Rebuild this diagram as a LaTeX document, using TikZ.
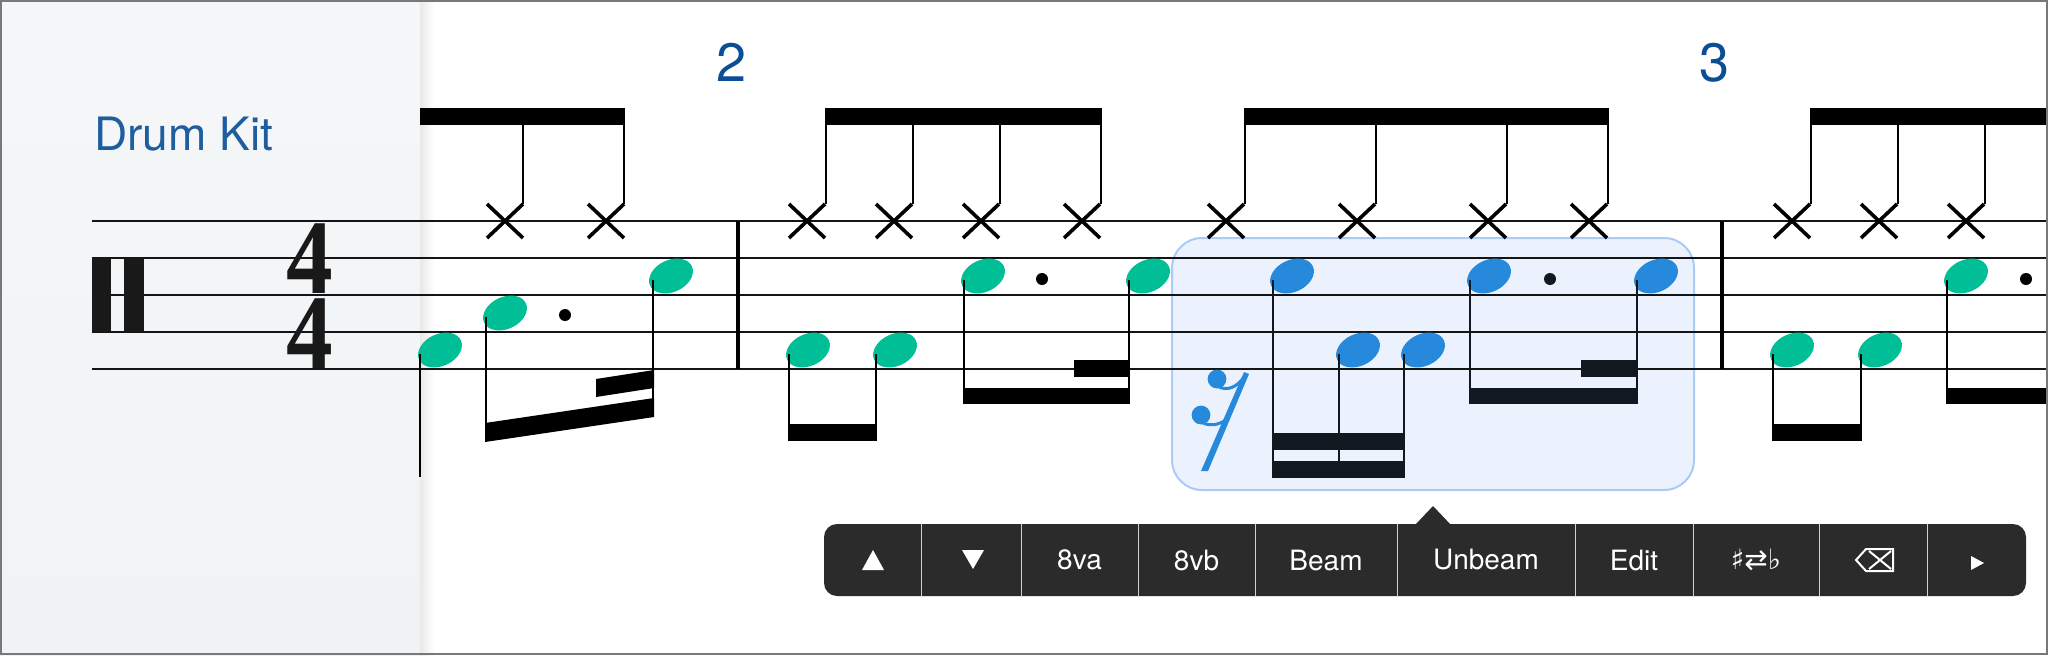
\documentclass[tikz,border=0pt]{standalone}
\usepackage{fontspec}
\newfontfamily\uifont{TeX Gyre Heros}
\newfontfamily\symfont{DejaVu Sans}
\newfontfamily\timefont{Liberation Serif}
\definecolor{panelgray}{HTML}{F0F3F5}
\definecolor{drumblue}{HTML}{1E5E9E}
\definecolor{barblue}{HTML}{0B4E94}
\definecolor{notegreen}{HTML}{00BE95}
\definecolor{noteblue}{HTML}{2789DC}
\definecolor{selfill}{HTML}{EBF2FD}
\definecolor{seldraw}{HTML}{A9CBF6}
\definecolor{selink}{HTML}{121820}
\definecolor{toolgray}{HTML}{2B2B2B}
\definecolor{framegray}{HTML}{787878}

\begin{document}
\begin{tikzpicture}[x=0.5pt, y=-0.5pt,
    staffline/.style={line width=0.9pt, black!92},
    barline/.style={line width=1.7pt},
    stemline/.style={line width=1.4pt},
    xhead/.pic={\draw[line width=1.8pt] (-18,-17) -- (18,17) (-18,17) -- (18,-17);},
    nhead/.pic={\fill[rotate=25] (0,0) ellipse [x radius=11.5pt, y radius=8pt];},
    dotmark/.pic={\fill (0,0) circle [radius=3pt];},
    toolcell/.style={minimum height=36pt, inner sep=0pt, text=white,
        font=\uifont\fontsize{14pt}{16pt}\selectfont},
    divider/.style={draw=white!82!black, line width=0.5pt}]
    \useasboundingbox (0,0) rectangle (2048,655);
    % header panel
    \shade[top color=panelgray!70!white, bottom color=panelgray] (0,0) rectangle (420,655);
    \shade[left color=black!9, right color=white] (420,0) rectangle (434,655);
    % selection
    \draw[seldraw, fill=selfill, line width=1pt, rounded corners=15pt] (1172,238) rectangle (1694,490);
    % staff
    \draw[staffline] (92,221) -- (2046,221);
    \draw[staffline] (92,258) -- (2046,258);
    \draw[staffline] (92,295) -- (2046,295);
    \draw[staffline] (92,332) -- (2046,332);
    \draw[staffline] (92,369) -- (2046,369);
    \draw[barline] (738,221) -- (738,369);
    \draw[barline] (1722,221) -- (1722,369);
    \fill[black!90] (92,258) rectangle (111,332);
    \fill[black!90] (124,258) rectangle (144,332);
    \node[inner sep=0pt, anchor=south, align=center, text=black!90,
        font=\timefont\bfseries\fontsize{53pt}{37.5pt}\selectfont] (timesig) at (310,369)
        {\lineskiplimit=-100pt\scalebox{0.88}[1]{4}\\\scalebox{0.88}[1]{4}};
    \node[anchor=base west, inner sep=0pt, text=drumblue, font=\uifont\fontsize{23pt}{26pt}\selectfont] (kit) at (94,150) {Drum Kit};
    \node[anchor=base, inner sep=0pt, text=barblue, font=\uifont\fontsize{27pt}{30pt}\selectfont] (bartwo) at (731,81) {2};
    \node[anchor=base, inner sep=0pt, text=barblue, font=\uifont\fontsize{27pt}{30pt}\selectfont] (barthree) at (1714,81) {3};
    % hi-hat, stems up
    \pic at (505,221) {xhead};
    \pic at (606,221) {xhead};
    \draw[stemline] (523,204) -- (523,116);
    \draw[stemline] (624,204) -- (624,116);
    \fill (420,108) rectangle (625,125);
    \pic at (807,221) {xhead};
    \pic at (894,221) {xhead};
    \pic at (981,221) {xhead};
    \pic at (1082,221) {xhead};
    \draw[stemline] (826,204) -- (826,116);
    \draw[stemline] (913,204) -- (913,116);
    \draw[stemline] (1000,204) -- (1000,116);
    \draw[stemline] (1101,204) -- (1101,116);
    \fill (825,108) rectangle (1102,125);
    \pic at (1226,221) {xhead};
    \pic at (1357,221) {xhead};
    \pic at (1488,221) {xhead};
    \pic at (1589,221) {xhead};
    \draw[stemline] (1245,204) -- (1245,116);
    \draw[stemline] (1376,204) -- (1376,116);
    \draw[stemline] (1507,204) -- (1507,116);
    \draw[stemline] (1608,204) -- (1608,116);
    \fill (1244,108) rectangle (1609,125);
    \pic at (1792,221) {xhead};
    \pic at (1879,221) {xhead};
    \pic at (1966,221) {xhead};
    \draw[stemline] (1811,204) -- (1811,116);
    \draw[stemline] (1898,204) -- (1898,116);
    \draw[stemline] (1985,204) -- (1985,116);
    \fill (1810,108) rectangle (2046,125);
    % bass and snare, stems down
    \pic[notegreen] at (440,350) {nhead};
    \pic[notegreen] at (505,313) {nhead};
    \pic[notegreen] at (671,276) {nhead};
    \pic at (565,315) {dotmark};
    \draw[stemline] (420,354) -- (420,477);
    \draw[stemline] (486,317) -- (486,435);
    \draw[stemline] (653,280) -- (653,410);
    \fill (485,423) -- (654,398) -- (654,417) -- (485,442) -- cycle;
    \fill (596,379) -- (654,370) -- (654,388) -- (596,397) -- cycle;
    \pic[notegreen] at (808,350) {nhead};
    \pic[notegreen] at (895,350) {nhead};
    \draw[stemline] (789,354) -- (789,436);
    \draw[stemline] (876,354) -- (876,436);
    \fill (788,424) rectangle (877,441);
    \pic[notegreen] at (983,276) {nhead};
    \pic[notegreen] at (1148,276) {nhead};
    \pic at (1042,279) {dotmark};
    \draw[stemline] (964,280) -- (964,400);
    \draw[stemline] (1129,280) -- (1129,400);
    \fill (963,388) rectangle (1130,404);
    \fill (1074,360) rectangle (1130,377);
    % selected beat
    \fill[noteblue] (1244,372) -- (1249,374) -- (1208,471) -- (1201,471) -- cycle;
    \fill[noteblue] (1217,379) circle [radius=4.7pt];
    \draw[noteblue, line width=1.5pt] (1219,387) .. controls (1228,391) and (1237,387) .. (1244,377);
    \fill[noteblue] (1201,415) circle [radius=4.7pt];
    \draw[noteblue, line width=1.5pt] (1203,423) .. controls (1212,427) and (1222,424) .. (1229,417);
    \pic[noteblue] at (1292,276) {nhead};
    \pic[noteblue] at (1358,350) {nhead};
    \pic[noteblue] at (1423,350) {nhead};
    \draw[stemline, selink] (1273,280) -- (1273,470);
    \draw[stemline, selink] (1339,354) -- (1339,470);
    \draw[stemline, selink] (1404,354) -- (1404,470);
    \fill[selink] (1272,433) rectangle (1405,450);
    \fill[selink] (1272,461) rectangle (1405,478);
    \pic[noteblue] at (1489,276) {nhead};
    \pic[noteblue] at (1656,276) {nhead};
    \pic[selink] at (1550,279) {dotmark};
    \draw[stemline, selink] (1470,280) -- (1470,400);
    \draw[stemline, selink] (1637,280) -- (1637,400);
    \fill[selink] (1469,388) rectangle (1638,404);
    \fill[selink] (1581,360) rectangle (1638,377);
    % bar 3
    \pic[notegreen] at (1792,350) {nhead};
    \pic[notegreen] at (1880,350) {nhead};
    \draw[stemline] (1773,354) -- (1773,436);
    \draw[stemline] (1861,354) -- (1861,436);
    \fill (1772,424) rectangle (1862,441);
    \pic[notegreen] at (1966,276) {nhead};
    \pic at (2026,279) {dotmark};
    \draw[stemline] (1947,280) -- (1947,400);
    \fill (1946,388) rectangle (2046,404);
    % toolbar
    \fill[toolgray, rounded corners=6.5pt] (824,524) rectangle (2026,596);
    \fill[toolgray] (1415,525) -- (1433,506) -- (1451,525) -- cycle;
    \node[toolcell, minimum width=48.5pt] (up) at (872.5,560) {};
    \node[toolcell, minimum width=50pt] (down) at (971,560) {};
    \node[toolcell, minimum width=58.5pt] (va) at (1079.5,560) {8va};
    \node[toolcell, minimum width=58.5pt] (vb) at (1196.5,560) {8vb};
    \node[toolcell, minimum width=71pt] (beam) at (1326,560) {Beam};
    \node[toolcell, minimum width=89pt] (unbeam) at (1486,560) {Unbeam};
    \node[toolcell, minimum width=59pt] (edit) at (1634,560) {Edit};
    \node[toolcell, minimum width=63pt] (acc) at (1756,560) {\symfont\fontsize{14pt}{16pt}\selectfont ♯⇄♭};
    \node[toolcell, minimum width=54pt] (del) at (1873,560) {};
    \node[toolcell, minimum width=49.5pt] (more) at (1976.5,560) {};
    \draw[divider] (up.north east) -- (up.south east);
    \draw[divider] (down.north east) -- (down.south east);
    \draw[divider] (va.north east) -- (va.south east);
    \draw[divider] (vb.north east) -- (vb.south east);
    \draw[divider] (beam.north east) -- (beam.south east);
    \draw[divider] (unbeam.north east) -- (unbeam.south east);
    \draw[divider] (edit.north east) -- (edit.south east);
    \draw[divider] (acc.north east) -- (acc.south east);
    \draw[divider] (del.north east) -- (del.south east);
    \fill[white] (862,570) -- (873,550) -- (884,570) -- cycle;
    \fill[white] (962,550) -- (984,550) -- (973,569) -- cycle;
    \draw[white, line width=1pt, line join=miter] (1856,560) -- (1866,549) -- (1893,549) -- (1893,571) -- (1866,571) -- cycle;
    \draw[white, line width=1pt] (1869,551) -- (1891,569) (1869,569) -- (1891,551);
    \fill[white] (1971,556) -- (1984,563) -- (1971,570) -- cycle;
    % frame
    \draw[framegray, line width=1.2pt] (1.2,1.2) rectangle (2046.8,653.8);
\end{tikzpicture}
\end{document}
